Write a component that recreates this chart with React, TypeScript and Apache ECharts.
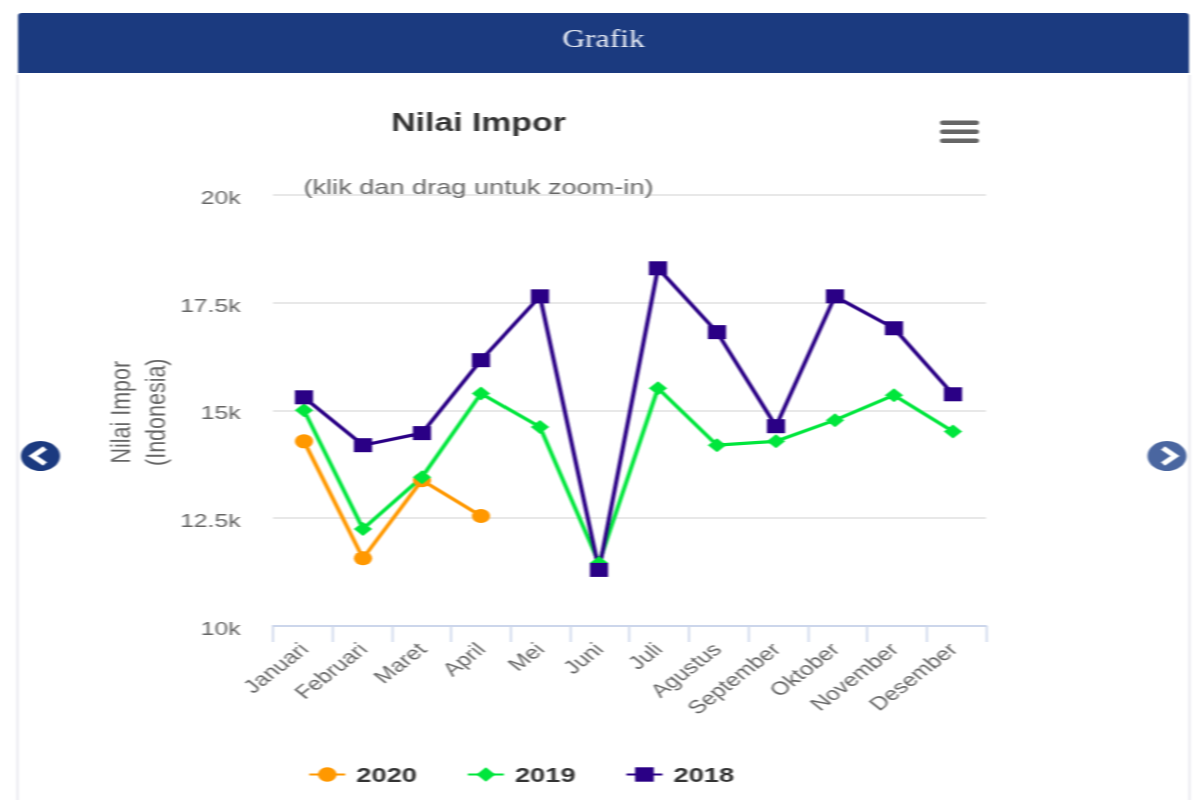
import React, { useEffect, useRef } from "react";
import * as echarts from "echarts";

const months = ["Januari", "Februari", "Maret", "April", "Mei", "Juni", "Juli", "Agustus", "September", "Oktober", "November", "Desember"];
const values2020 = [14280, 11570, 13380, 12550];
const values2019 = [15000, 12250, 13450, 15390, 14610, 11460, 15510, 14190, 14280, 14770, 15350, 14510];
const values2018 = [15300, 14190, 14470, 16160, 17640, 11300, 18290, 16810, 14630, 17640, 16900, 15370];

// The reference picture is stretched horizontally; the whole chart is drawn narrower and widened by this factor.
const K = 1.3;
const X = (px: number) => px / K;
const FONT = "Liberation Sans";
const GREY = "#666666";

export default function App() {
  const ref = useRef<HTMLDivElement>(null);
  useEffect(() => {
    const chart = echarts.init(ref.current!, undefined, { renderer: "svg" });
    const bar = (y: number) => ({
      type: "rect",
      shape: { x: X(940), y, width: X(39), height: 4.5, r: 2 },
      style: { fill: "#666666" },
    });
    const nav = (cx: number, fill: string, pts: number[][]) => [
      { type: "circle", shape: { cx: X(cx), cy: 456, r: 15 }, style: { fill } },
      {
        type: "polyline",
        shape: { points: pts.map(([a, b]) => [X(a), b]) },
        style: { stroke: "#ffffff", lineWidth: 4.5, fill: "none" },
      },
    ];
    const series = [
      { name: "2020", data: values2020, color: "#ff9800", symbol: "circle" },
      { name: "2019", data: values2019, color: "#00e63c", symbol: "diamond" },
      { name: "2018", data: values2018, color: "#2a0085", symbol: "rect" },
    ];
    chart.setOption({
      animation: false,
      backgroundColor: "#ffffff",
      textStyle: { fontFamily: FONT },
      title: [
        {
          text: "Nilai Impor",
          left: X(472),
          top: 104,
          textAlign: "center",
          textStyle: { fontFamily: FONT, fontSize: 26, fontWeight: "bold", color: "#333333" },
        },
        {
          text: "(klik dan drag untuk zoom-in)",
          left: X(472),
          top: 171,
          textAlign: "center",
          textStyle: { fontFamily: FONT, fontSize: 20.9, fontWeight: "normal", color: GREY },
        },
      ],
      legend: {
        left: X(308),
        top: 764,
        padding: 0,
        itemWidth: X(36),
        itemHeight: 18,
        itemGap: X(49.5),
        textStyle: { fontFamily: FONT, fontSize: 21, fontWeight: "bold", color: "#333333", padding: [0, 0, 0, 3.5] },
        data: series.map((s) => s.name),
      },
      grid: [
        { left: X(273), width: X(986 - 273), top: 194.5, height: 431.5 },
        { left: X(274.5), width: X(708), top: 194.5, height: 431.5 },
      ],
      xAxis: [
        {
          type: "category",
          gridIndex: 0,
          data: months,
          boundaryGap: true,
          axisLine: { lineStyle: { color: "#ccd6eb", width: 2 } },
          axisTick: { show: true, interval: 0, alignWithLabel: false, length: 16, lineStyle: { color: "#ccd6eb", width: 1.5 } },
          axisLabel: { show: false },
        },
        {
          type: "category",
          gridIndex: 1,
          data: months,
          boundaryGap: true,
          axisLine: { show: false },
          axisTick: { show: false },
          axisLabel: { rotate: 45, interval: 0, margin: 20, fontFamily: FONT, fontSize: 18.8, color: GREY },
        },
      ],
      yAxis: [
        {
          type: "value",
          gridIndex: 0,
          min: 10000,
          max: 20000,
          interval: 2500,
          name: "Nilai Impor\n(Indonesia)",
          nameLocation: "middle",
          nameRotate: 90,
          nameGap: 77,
          nameMoveOverlap: false,
          nameTextStyle: { fontFamily: FONT, fontSize: 21.5, color: GREY, lineHeight: 27, padding: [0, 4, 0, 0] },
          axisLine: { show: false },
          axisTick: { show: false },
          axisLabel: {
            margin: 25,
            fontFamily: FONT,
            fontSize: 19,
            color: GREY,
            verticalAlign: "top",
            lineHeight: 5.5,
            formatter: (v: number) => `${v / 1000}k`,
          },
          splitLine: { lineStyle: { color: "#e0e0e0", width: 1.5 } },
        },
        {
          type: "value",
          gridIndex: 1,
          min: 10000,
          max: 20000,
          interval: 2500,
          show: false,
          splitLine: { show: false },
        },
      ],
      series: series.map((s) => ({
        name: s.name,
        type: "line",
        xAxisIndex: 1,
        yAxisIndex: 1,
        data: s.data,
        symbol: s.symbol,
        symbolSize: 14,
        showAllSymbols: true,
        connectNulls: false,
        lineStyle: { color: s.color, width: 3.2 },
        itemStyle: { color: s.color },
      })),
      graphic: {
        elements: [
          {
            type: "group",
            silent: true,
            children: [
              { type: "rect", shape: { x: X(18), y: 13, width: X(1171), height: 60, r: [3, 3, 0, 0] }, style: { fill: "#1b3a7f" } },
              { type: "line", shape: { x1: X(17.5), y1: 75, x2: X(17.5), y2: 800 }, style: { stroke: "#e6e6ee", lineWidth: 1.5 } },
              { type: "line", shape: { x1: X(1189.5), y1: 75, x2: X(1189.5), y2: 800 }, style: { stroke: "#e6e6ee", lineWidth: 1.5 } },
              {
                type: "text",
                x: X(603.5),
                y: 39,
                style: {
                  text: "Grafik",
                  fill: "#e9edf6",
                  font: "24.4px 'Liberation Serif'",
                  textAlign: "center",
                  textVerticalAlign: "middle",
                },
              },
              bar(120.5),
              bar(129.5),
              bar(138.5),
              ...nav(40.5, "#1b3a7f", [[45, 448], [33, 456], [45, 464]]),
              ...nav(1167, "#4a66a0", [[1163, 448], [1175, 456], [1163, 464]]),
            ],
          },
        ],
      },
    });
    return () => chart.dispose();
  }, []);
  return (
    <div
      ref={ref}
      style={{
        position: "fixed",
        left: 0,
        top: 0,
        width: 1200 / K,
        height: 800,
        transform: `scaleX(${K})`,
        transformOrigin: "0 0",
        filter: "blur(0.7px)",
      }}
    />
  );
}
